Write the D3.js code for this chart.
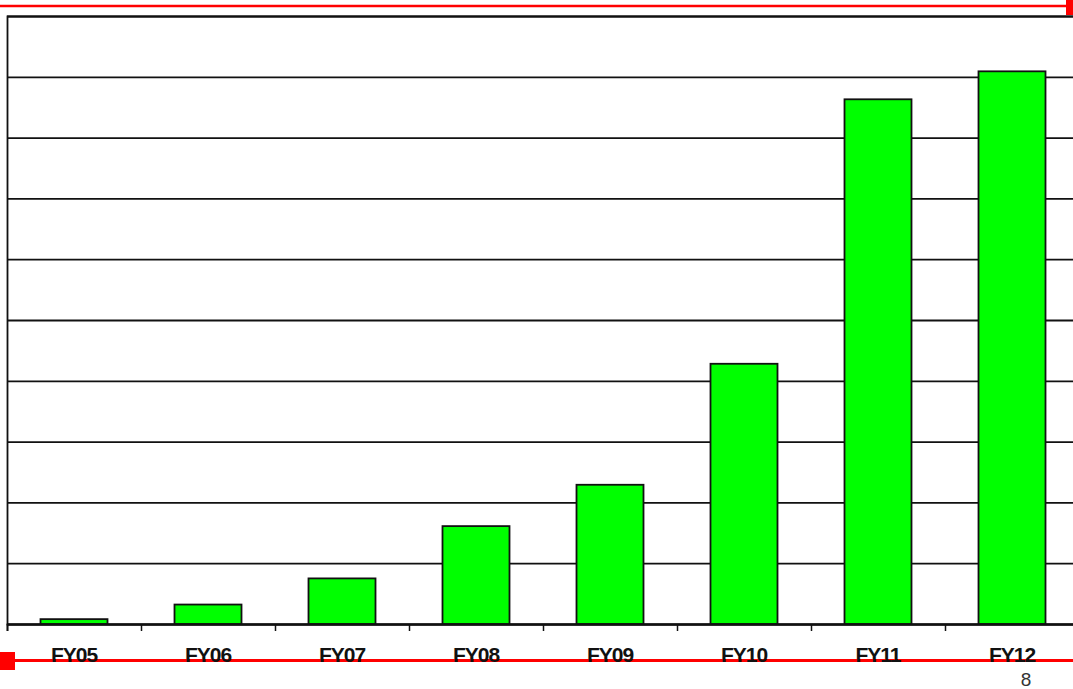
<!DOCTYPE html>
<html>
<head>
<meta charset="utf-8">
<script src="https://cdn.jsdelivr.net/npm/d3@7"></script>
<style>
  body { margin: 0; background: #fff; }
  svg { display: block; }
</style>
</head>
<body>
<svg id="chart" width="1073" height="689"></svg>
<script>
// data (units = gridline steps)
const years = ["FY05", "FY06", "FY07", "FY08", "FY09", "FY10", "FY11", "FY12"];
const values = [0.08, 0.32, 0.75, 1.61, 2.29, 4.28, 8.63, 9.09];
const yTicks = [0, 1, 2, 3, 4, 5, 6, 7, 8, 9, 10];
const pageNumber = "8";

const width = 1073;
const height = 689;
const margin = { top: 16, left: 7, bottom: 624, right: 1079 };

const svg = d3.select("#chart");

// scales
const xScale = d3.scaleBand()
  .domain(years)
  .range([margin.left, margin.right])
  .paddingInner(0.5)
  .paddingOuter(0.25);

const xEdge = d3.scaleLinear()
  .domain([0, years.length])
  .range([margin.left, margin.right]);

const yScale = d3.scaleLinear()
  .domain([0, 10])
  .range([margin.bottom, margin.top]);

// top red rule
svg.append("line")
  .attr("x1", 0).attr("x2", 1068)
  .attr("y1", 6).attr("y2", 6)
  .attr("stroke", "#ff0000")
  .attr("stroke-width", 2.5);
svg.append("rect")
  .attr("x", 1066).attr("y", 0)
  .attr("width", 7).attr("height", 15)
  .attr("fill", "#ff0000");

// gridlines
const grid = svg.append("g")
  .attr("transform", `translate(${margin.left},0)`)
  .call(d3.axisLeft(yScale).tickValues(yTicks).tickSize(-(margin.right - margin.left)).tickFormat(""));
grid.select(".domain").attr("stroke", "#111").attr("stroke-width", 1.8);
grid.selectAll(".tick line").attr("stroke", "#111").attr("stroke-width", 1.8);

// bars
svg.selectAll("rect.bar")
  .data(values)
  .join("rect")
  .attr("class", "bar")
  .attr("x", (d, i) => xScale(years[i]))
  .attr("y", d => yScale(d))
  .attr("width", xScale.bandwidth())
  .attr("height", d => yScale(0) - yScale(d))
  .attr("fill", "#00ff00")
  .attr("stroke", "#111")
  .attr("stroke-width", 1.8);

// x axis ticks between categories
const xAxis = svg.append("g")
  .attr("transform", `translate(0,${margin.bottom})`)
  .call(d3.axisBottom(xEdge).tickValues(d3.range(0, years.length + 1)).tickSize(7).tickFormat(""));
xAxis.select(".domain").attr("stroke", "#111").attr("stroke-width", 1.8);
xAxis.selectAll(".tick line").attr("stroke", "#111").attr("stroke-width", 1.5);

// bottom red rule
svg.append("line")
  .attr("x1", 0).attr("x2", width)
  .attr("y1", 660.5).attr("y2", 660.5)
  .attr("stroke", "#ff0000")
  .attr("stroke-width", 3);
svg.append("rect")
  .attr("x", 0).attr("y", 652)
  .attr("width", 15).attr("height", 18)
  .attr("fill", "#ff0000");

// category labels
svg.selectAll("text.label")
  .data(years)
  .join("text")
  .attr("class", "label")
  .attr("x", d => xScale(d) + xScale.bandwidth() / 2)
  .attr("y", 662)
  .attr("text-anchor", "middle")
  .attr("font-family", "Liberation Sans, Arial, sans-serif")
  .attr("font-weight", "bold")
  .attr("font-size", "21px")
  .attr("letter-spacing", "-1px")
  .attr("fill", "#111")
  .text(d => d);

// page number
svg.append("text")
  .attr("x", 1026)
  .attr("y", 686)
  .attr("text-anchor", "middle")
  .attr("font-family", "Liberation Sans, Arial, sans-serif")
  .attr("font-size", "19px")
  .attr("fill", "#333")
  .text(pageNumber);
</script>
</body>
</html>
